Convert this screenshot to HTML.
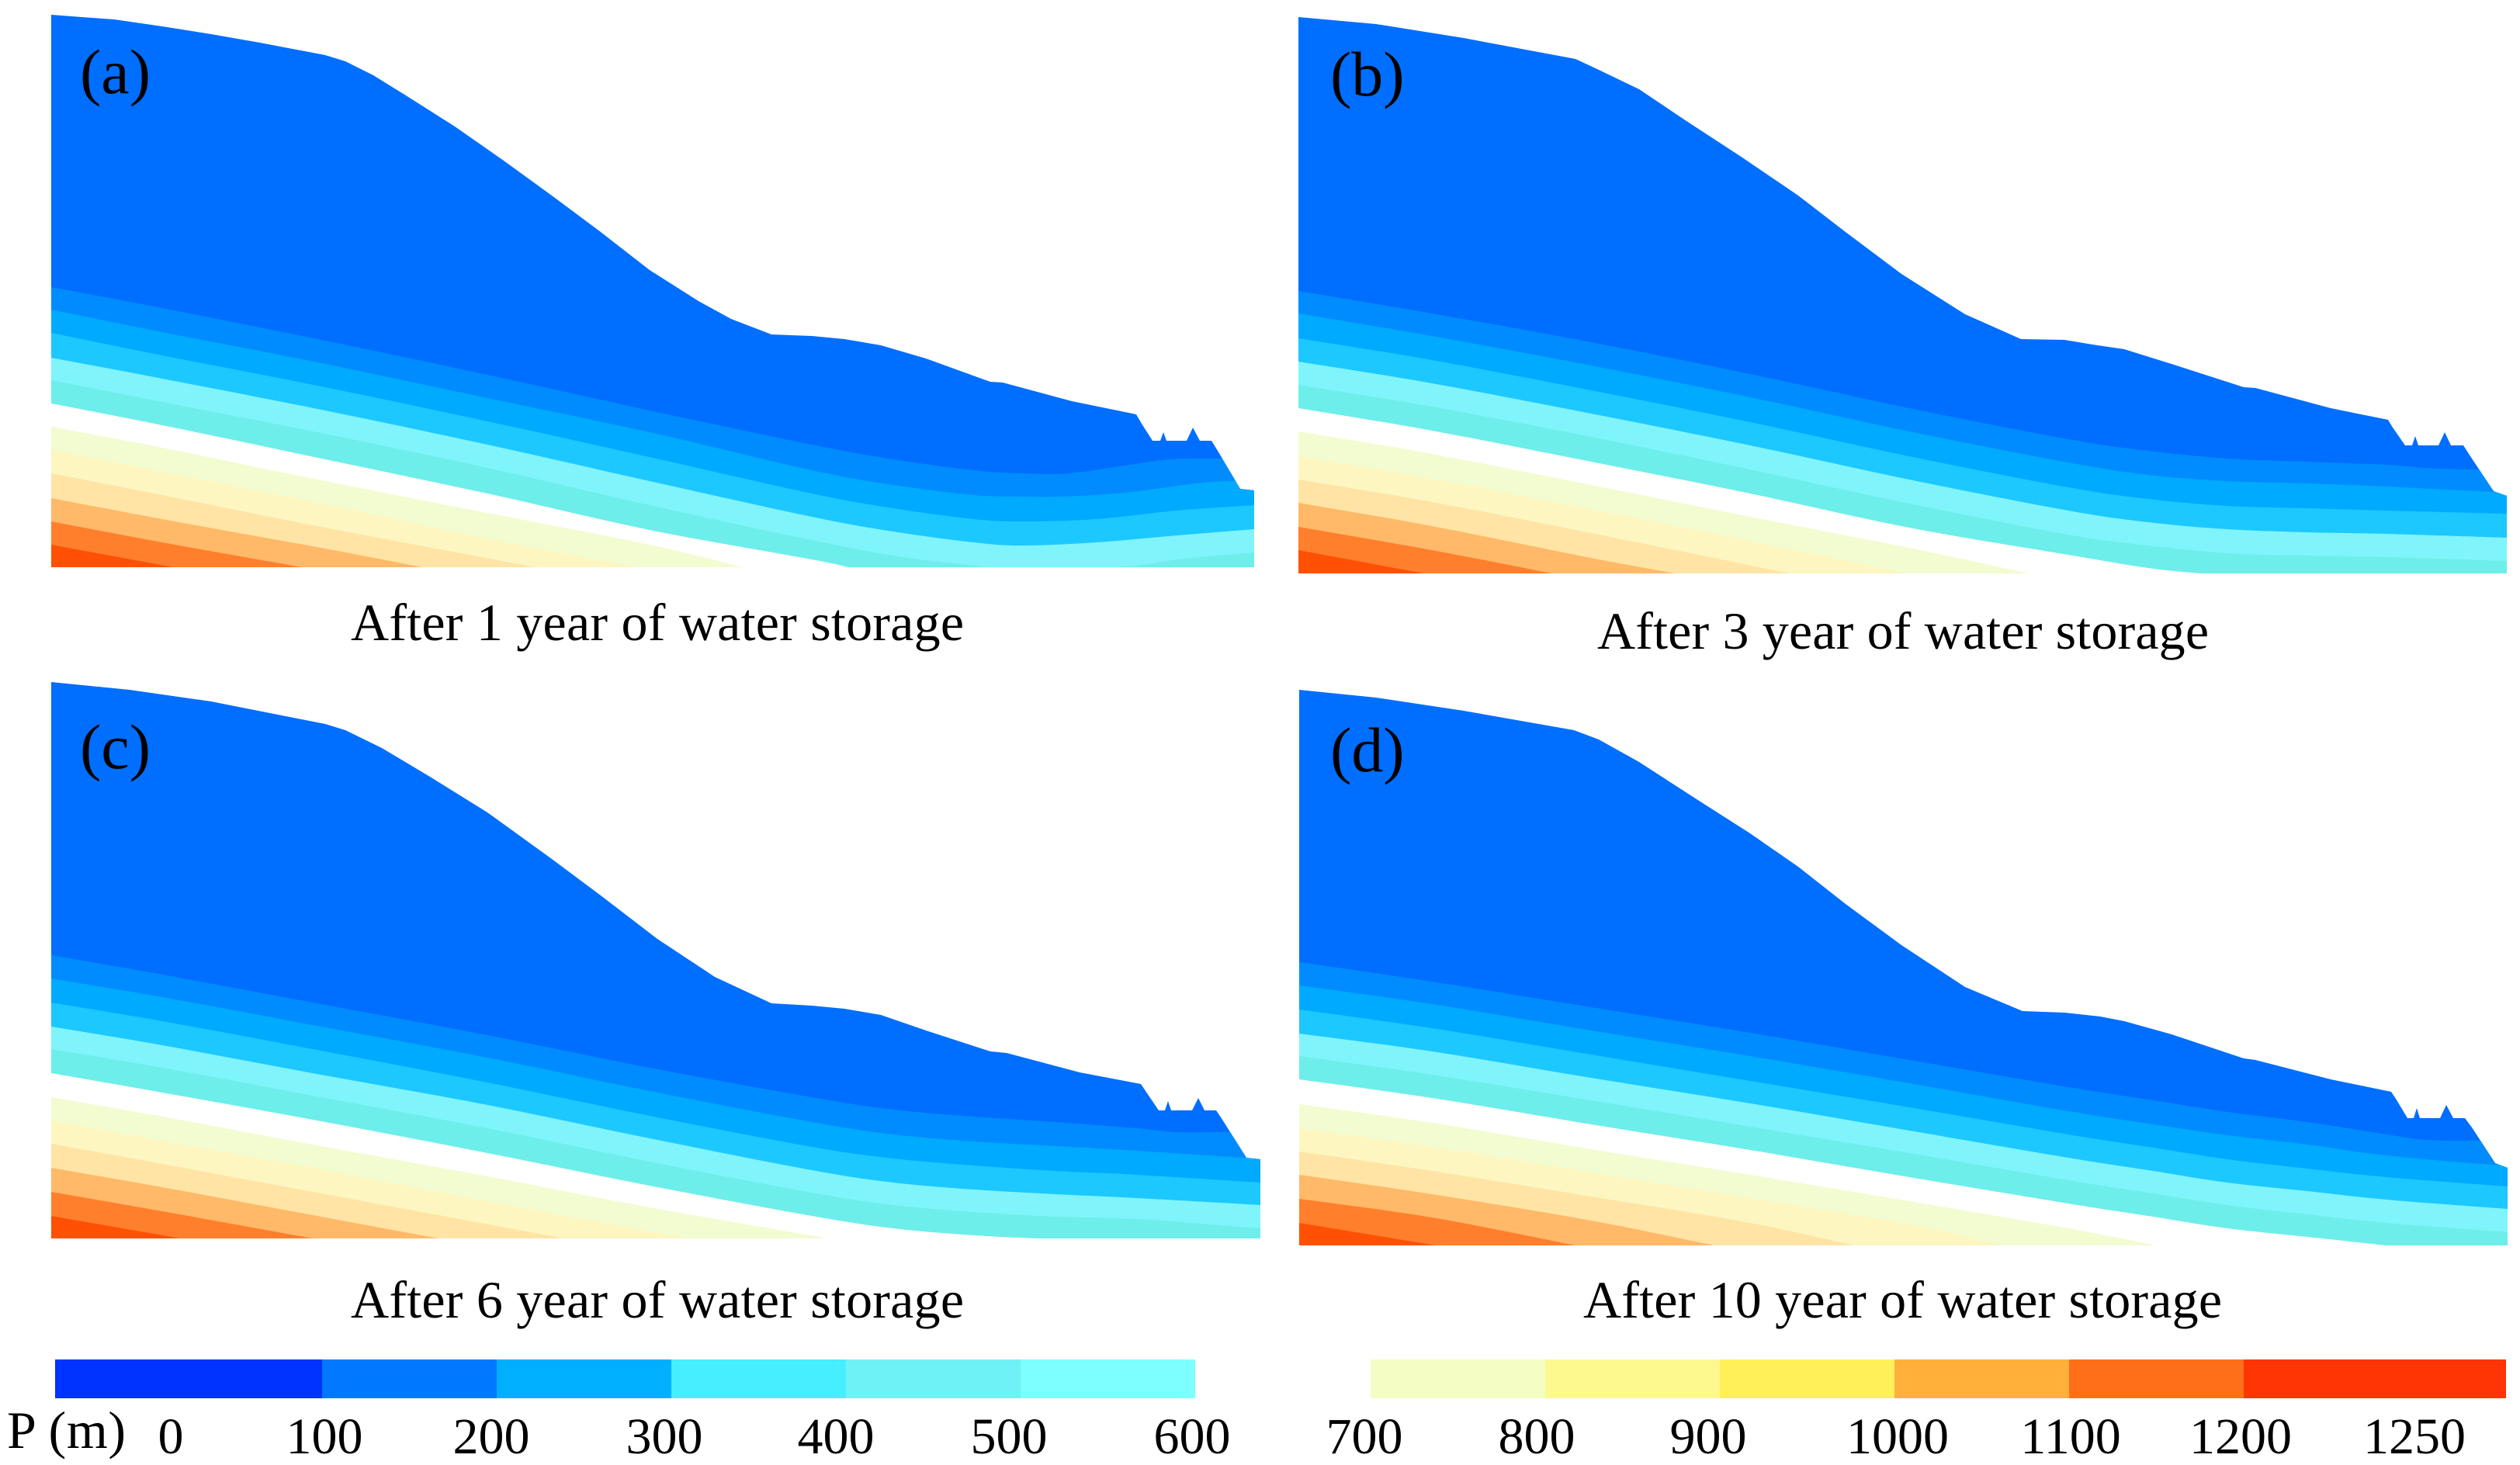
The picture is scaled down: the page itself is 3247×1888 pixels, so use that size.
<!DOCTYPE html>
<html lang="en">
<head>
<meta charset="utf-8">
<title>Pore pressure contours after water storage</title>
<style>
html,body{margin:0;padding:0;background:#fff;}
svg{display:block;}
text{font-family:"Liberation Serif",serif;fill:#000;}
.title{font-size:68px;}
.tag{font-size:82px;}
.tick{font-size:66px;text-anchor:middle;}
</style>
</head>
<body>
<svg id="figure" xmlns="http://www.w3.org/2000/svg" width="3247" height="1888" viewBox="0 0 3247 1888">
  <g id="plots"></g>
  <g id="legend"></g>

  <text class="tag" x="103" y="120">(a)</text>
  <text class="tag" x="1714" y="123">(b)</text>
  <text class="tag" x="103" y="990">(c)</text>
  <text class="tag" x="1714" y="994">(d)</text>

  <text class="title" x="452" y="825" textLength="790">After 1 year of water storage</text>
  <text class="title" x="2058" y="836" textLength="788">After 3 year of water storage</text>
  <text class="title" x="452" y="1698" textLength="790">After 6 year of water storage</text>
  <text class="title" x="2040" y="1698" textLength="823">After 10 year of water storage</text>

  <text x="9" y="1866" textLength="153" style="font-size:68px">P (m)</text>
  <text class="tick" x="220" y="1873">0</text>
  <text class="tick" x="418" y="1873">100</text>
  <text class="tick" x="633" y="1873">200</text>
  <text class="tick" x="856" y="1873">300</text>
  <text class="tick" x="1077" y="1873">400</text>
  <text class="tick" x="1300" y="1873">500</text>
  <text class="tick" x="1536" y="1873">600</text>
  <text class="tick" x="1758" y="1873">700</text>
  <text class="tick" x="1980" y="1873">800</text>
  <text class="tick" x="2201" y="1873">900</text>
  <text class="tick" x="2445" y="1873">1000</text>
  <text class="tick" x="2668" y="1873">1100</text>
  <text class="tick" x="2887" y="1873">1200</text>
  <text class="tick" x="3111" y="1873">1250</text>
</svg>

<script>
// Pressure levels of the contour lines (m)
const contourLevels = [100,200,300,400,500,600,700,800,900,1000,1100,1200];

// Ground surface of each panel: [distance, elevation]
const surfaceA = [[0,712],[39,709],[81,706],[143,697],[206,687],[269,676],[353,660],[379,652],[415,634],[457,608],[520,568],[583,524],[645,479],[708,432],[771,383],[834,343],[876,320],[928,300],[980,298],[1022,294],[1069,286],[1127,269],[1210,239],[1226,238],[1315,214],[1398,197],[1405,185],[1419,163],[1429,163],[1433,174],[1437,163],[1463,163],[1471,180],[1480,163],[1495,163],[1503,150],[1532,101],[1550,99]];
const surfaceB = [[0,717],[100,708],[213,690],[357,663],[387,649],[439,624],[500,583],[572,536],[644,487],[705,440],[777,386],[859,334],[931,302],[987,301],[1023,295],[1064,289],[1125,270],[1218,240],[1233,239],[1330,213],[1404,198],[1410,188],[1426,165],[1435,165],[1439,177],[1443,165],[1469,165],[1477,182],[1485,165],[1501,165],[1510,151],[1540,106],[1557,100]];
const surfaceC = [[0,717],[101,707],[206,692],[353,663],[379,655],[426,632],[488,595],[562,549],[645,489],[708,442],[781,386],[855,337],[928,303],[980,300],[1022,296],[1069,288],[1127,268],[1210,241],[1231,239],[1325,214],[1404,199],[1410,190],[1427,165],[1435,165],[1439,177],[1443,165],[1470,165],[1478,181],[1486,165],[1501,165],[1509,153],[1540,104],[1558,102]];
const surfaceD = [[0,716],[99,706],[212,689],[354,664],[386,652],[438,623],[509,577],[581,531],[643,488],[704,440],[776,387],[858,333],[932,302],[986,300],[1032,295],[1063,289],[1124,272],[1217,241],[1232,239],[1329,214],[1407,198],[1413,189],[1428,164],[1436,164],[1440,177],[1444,164],[1470,164],[1478,181],[1487,164],[1502,164],[1511,152],[1541,106],[1557,100]];

// Contour lines per panel, one list per level in contourLevels: [distance, elevation]
const contoursA = [
  [[0,361],[143,334],[353,292],[562,248],[771,202],[980,158],[1085,139],[1189,125],[1254,121],[1311,121],[1383,131],[1441,139],[1506,140],[1600,140]],
  [[0,332],[143,303],[353,262],[562,218],[771,174],[980,125],[1085,106],[1189,93],[1250,91],[1301,91],[1383,96],[1496,110],[1600,112]],
  [[0,302],[143,273],[353,232],[562,188],[771,142],[980,95],[1085,76],[1189,62],[1252,59],[1346,62],[1450,73],[1550,80]],
  [[0,270],[143,243],[353,202],[562,158],[771,111],[980,65],[1085,46],[1189,32],[1252,28],[1346,32],[1451,41],[1550,49]],
  [[0,241],[143,213],[353,172],[562,128],[771,80],[980,35],[1085,15],[1189,2],[1221,0],[1374,0],[1451,10],[1550,19]],
  [[0,211],[143,183],[353,139],[562,95],[771,48],[980,10],[1027,0]],
  [[0,181],[143,154],[353,111],[562,70],[771,29],[891,0]],
  [[0,151],[143,123],[353,81],[562,37],[755,0]],
  [[0,121],[143,93],[353,51],[624,0]],
  [[0,89],[143,62],[353,24],[478,0]],
  [[0,59],[143,32],[323,0]],
  [[0,29],[157,0]]
];
const contoursB = [
  [[0,364],[172,335],[377,298],[582,257],[787,213],[992,173],[1095,158],[1197,148],[1300,144],[1402,140],[1453,136],[1515,134],[1600,134]],
  [[0,335],[172,306],[377,268],[582,227],[787,183],[992,143],[1095,127],[1197,119],[1300,116],[1402,112],[1540,105],[1600,104]],
  [[0,303],[172,275],[377,236],[582,195],[787,151],[992,111],[1095,96],[1197,87],[1300,84],[1402,81],[1557,77]],
  [[0,273],[172,245],[377,206],[582,165],[787,121],[992,81],[1095,66],[1197,57],[1300,53],[1402,51],[1557,46]],
  [[0,243],[172,215],[377,176],[582,134],[787,90],[992,50],[1095,36],[1197,26],[1300,23],[1402,21],[1557,16]],
  [[0,213],[172,184],[377,144],[582,103],[787,59],[992,24],[1095,7],[1162,0]],
  [[0,183],[172,154],[377,114],[582,73],[787,33],[941,0]],
  [[0,151],[172,122],[377,83],[582,42],[782,0]],
  [[0,121],[172,92],[377,52],[633,0]],
  [[0,91],[172,61],[377,20],[485,0]],
  [[0,60],[172,30],[326,0]],
  [[0,30],[162,0]]
];
const contoursC = [
  [[0,365],[143,340],[353,301],[562,262],[771,220],[980,182],[1085,166],[1189,157],[1294,150],[1399,142],[1451,137],[1514,137],[1600,137]],
  [[0,335],[143,311],[353,272],[562,233],[771,190],[980,150],[1085,134],[1189,125],[1294,119],[1399,113],[1540,104],[1600,104]],
  [[0,304],[143,280],[353,241],[562,201],[771,158],[980,118],[1085,103],[1189,94],[1294,87],[1399,82],[1559,72]],
  [[0,273],[143,249],[353,210],[562,172],[771,129],[980,88],[1085,72],[1189,63],[1294,57],[1399,52],[1559,43]],
  [[0,244],[143,220],[353,181],[562,142],[771,99],[980,59],[1085,43],[1189,34],[1294,28],[1399,25],[1559,13]],
  [[0,213],[143,188],[353,150],[562,110],[771,68],[980,29],[1085,13],[1189,4],[1273,0]],
  [[0,182],[143,157],[353,118],[562,80],[771,40],[1001,0]],
  [[0,152],[143,126],[353,88],[562,48],[818,0]],
  [[0,122],[143,96],[353,57],[661,0]],
  [[0,91],[143,66],[353,27],[499,0]],
  [[0,60],[143,35],[337,0]],
  [[0,29],[166,0]]
];
const contoursD = [
  [[0,365],[171,340],[376,307],[581,274],[786,239],[991,204],[1094,188],[1196,172],[1299,159],[1401,143],[1452,136],[1519,135],[1600,135]],
  [[0,335],[171,311],[376,277],[581,244],[786,209],[991,173],[1094,157],[1196,142],[1299,130],[1401,116],[1539,104],[1600,104]],
  [[0,304],[171,280],[376,246],[581,212],[786,178],[991,143],[1094,127],[1196,111],[1299,99],[1401,88],[1557,76]],
  [[0,273],[171,250],[376,216],[581,183],[786,148],[991,113],[1094,97],[1196,81],[1299,70],[1401,59],[1557,47]],
  [[0,244],[171,220],[376,187],[581,153],[786,119],[991,84],[1094,68],[1196,52],[1299,40],[1401,29],[1557,17]],
  [[0,214],[171,190],[376,156],[581,123],[786,88],[991,54],[1094,38],[1196,22],[1299,11],[1401,0]],
  [[0,182],[171,158],[376,124],[581,91],[786,57],[991,22],[1104,0]],
  [[0,151],[171,127],[376,94],[581,61],[786,27],[904,0]],
  [[0,121],[171,96],[376,63],[581,29],[715,0]],
  [[0,91],[171,66],[376,32],[535,0]],
  [[0,60],[171,36],[356,0]],
  [[0,29],[176,0]]
];

// Colour bar bins (m): lower bound of each swatch; 600–700 has no swatch
const binLowerBounds = [0,100,200,300,400,500,700,800,900,1000,1100,1200];

const NS = 'http://www.w3.org/2000/svg';
const baseColor = '#006eff';
const bandColors = ['#008cff','#00aaff','#1cc8ff','#80f4fb','#6deeea','#ffffff','#f3fbd1','#fdf6c0','#ffe4a5','#ffb968','#ff7f2c','#ff5003'];
const barColors = ['#0033ff','#0078ff','#00b0ff','#45efff','#6ff2f5','#7dffff','#f4fdc4','#fdf98e','#fff05a','#ffb03a','#ff6f18','#ff3505'];

function makeScales(left, bottom) {
  return {
    x: function (distance) { return left + distance; },
    y: function (elevation) { return bottom - elevation; }
  };
}

function surfacePath(points, sc) {
  const last = points[points.length - 1];
  let d = 'M' + sc.x(points[0][0]) + ' ' + sc.y(points[0][1]);
  for (let i = 1; i < points.length; i++) {
    d += 'L' + sc.x(points[i][0]) + ' ' + sc.y(points[i][1]);
  }
  d += 'L' + sc.x(last[0]) + ' ' + sc.y(0) + 'L' + sc.x(0) + ' ' + sc.y(0) + 'Z';
  return d;
}

function contourPath(points, sc) {
  const last = points[points.length - 1];
  let d = 'M' + sc.x(points[0][0]) + ' ' + sc.y(points[0][1]);
  for (let i = 0; i < points.length - 1; i++) {
    const p0 = points[Math.max(i - 1, 0)];
    const p1 = points[i];
    const p2 = points[i + 1];
    const p3 = points[Math.min(i + 2, points.length - 1)];
    const c1x = sc.x(p1[0] + (p2[0] - p0[0]) / 6);
    const c1y = sc.y(p1[1] + (p2[1] - p0[1]) / 6);
    const c2x = sc.x(p2[0] - (p3[0] - p1[0]) / 6);
    const c2y = sc.y(p2[1] - (p3[1] - p1[1]) / 6);
    d += 'C' + c1x + ' ' + c1y + ' ' + c2x + ' ' + c2y + ' ' + sc.x(p2[0]) + ' ' + sc.y(p2[1]);
  }
  d += 'L' + sc.x(last[0]) + ' ' + sc.y(0) + 'L' + sc.x(0) + ' ' + sc.y(0) + 'Z';
  return d;
}

function drawPanel(id, left, bottom, surface, contours) {
  const sc = makeScales(left, bottom);
  const root = document.getElementById('plots');
  const group = document.createElementNS(NS, 'g');
  
  

  const clip = document.createElementNS(NS, 'clipPath');
  clip.setAttribute('id', 'clip-' + id);
  const clipShape = document.createElementNS(NS, 'path');
  clipShape.setAttribute('d', surfacePath(surface, sc));
  clip.appendChild(clipShape);
  group.appendChild(clip);

  const ground = document.createElementNS(NS, 'path');
  ground.setAttribute('d', surfacePath(surface, sc));
  ground.setAttribute('fill', baseColor);
  
  
  group.appendChild(ground);

  const bands = document.createElementNS(NS, 'g');
  bands.setAttribute('clip-path', 'url(#clip-' + id + ')');
  contours.forEach(function (line, i) {
    const band = document.createElementNS(NS, 'path');
    band.setAttribute('d', contourPath(line, sc));
    band.setAttribute('fill', bandColors[i]);
    
    
    bands.appendChild(band);
  });
  group.appendChild(bands);
  root.appendChild(group);
}

drawPanel('a', 66, 731, surfaceA, contoursA);
drawPanel('b', 1673, 739, surfaceB, contoursB);
drawPanel('c', 66, 1596, surfaceC, contoursC);
drawPanel('d', 1674, 1605, surfaceD, contoursD);

// Colour bar axis: the two bars share a fixed bin step; the first blue and last red bins are wider
function barStart(i) {
  if (i === 0) { return 71; }
  if (i < 6) { return 415 + (i - 1) * 225; }
  return 1766 + (i - 6) * 225;
}
function barEnd(i) {
  if (i === 5) { return 1540; }
  if (i === 11) { return 3229; }
  return barStart(i + 1);
}

binLowerBounds.forEach(function (level, i) {
  const swatch = document.createElementNS(NS, 'rect');
  swatch.setAttribute('x', barStart(i));
  swatch.setAttribute('y', 1752);
  swatch.setAttribute('width', barEnd(i) - barStart(i));
  swatch.setAttribute('height', 50);
  swatch.setAttribute('fill', barColors[i]);
  
  
  document.getElementById('legend').appendChild(swatch);
});
</script>
</body>
</html>
